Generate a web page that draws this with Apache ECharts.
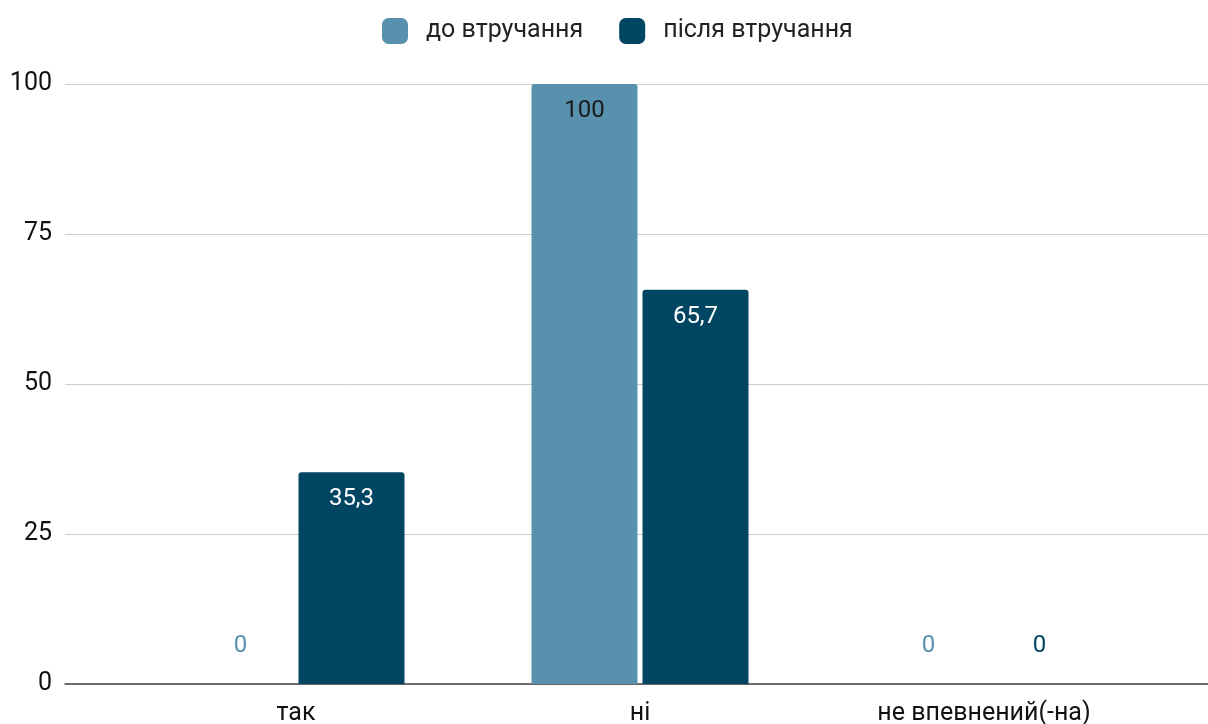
<!DOCTYPE html>
<html><head><meta charset="utf-8">
<script src="https://cdn.jsdelivr.net/npm/echarts@6/dist/echarts.min.js"></script>
<style>html,body{margin:0;padding:0;background:#fff}#c{width:1208px;height:724px}</style>
</head><body><div id="c"></div>
<script>
const categories = ['так', 'ні', 'не впевнений(-на)'];
const seriesNames = ['до втручання', 'після втручання'];
const before = [0, 100, 0];
const after = [35.3, 65.7, 0];
const yTicks = [0, 25, 50, 75, 100];

const colors = ['#5891AD', '#004561'];
const labelColors = ['#1a1a1a', '#ffffff'];
const fmt = v => String(v).replace('.', ',');

function buildData(arr, idx) {
  return arr.map(v => {
    if (v === 0) {
      return { value: v, label: { position: 'top', distance: 26, color: colors[idx] } };
    }
    return { value: v };
  });
}

const chart = echarts.init(document.getElementById('c'));
chart.setOption({
  animation: false,
  textStyle: { fontFamily: 'Roboto' },
  legend: {
    top: 13, left: 377, itemWidth: 26, itemHeight: 26, itemGap: 36,
    icon: 'roundRect',
    textStyle: { fontSize: 25, color: '#222', fontFamily: 'Roboto', padding: [0, 0, 0, 13] },
    data: seriesNames
  },
  grid: [
    { left: 65, right: 0, top: 84, bottom: 40, outerBoundsMode: 'none', containLabel: false },
    { left: 124, right: 52, top: 84, bottom: 40, outerBoundsMode: 'none', containLabel: false }
  ],
  xAxis: [
    { type: 'value', gridIndex: 0, min: 0, max: 1, show: true, axisLabel: { show: false }, axisTick: { show: false }, splitLine: { show: false },
      axisLine: { show: true, lineStyle: { color: '#444', width: 1.5 } } },
    { type: 'category', gridIndex: 1, data: categories, axisLine: { show: false }, axisTick: { show: false },
      axisLabel: { fontSize: 25, color: '#111', margin: 17, fontFamily: 'Roboto' } }
  ],
  yAxis: [
    { type: 'value', gridIndex: 0, min: 0, max: 100, interval: 25,
      axisLine: { show: false }, axisTick: { show: false },
      axisLabel: { fontSize: 25, color: '#111', margin: 13, fontFamily: 'Roboto',
        formatter: v => yTicks.includes(v) ? String(v) : '' },
      splitLine: { lineStyle: { color: '#cccccc', width: 1 } } },
    { type: 'value', gridIndex: 1, min: 0, max: 100, interval: 25, show: false, splitLine: { show: false } }
  ],
  series: [0, 1].map(i => ({
    name: seriesNames[i], type: 'bar', xAxisIndex: 1, yAxisIndex: 1,
    data: buildData(i === 0 ? before : after, i),
    barWidth: 106, barGap: '4.7%',
    itemStyle: { color: colors[i], borderRadius: [3, 3, 0, 0] },
    label: { show: true, position: 'insideTop', distance: 15, fontSize: 24, color: labelColors[i],
      fontFamily: 'Roboto', formatter: p => fmt(p.value) }
  }))
});
</script></body></html>
